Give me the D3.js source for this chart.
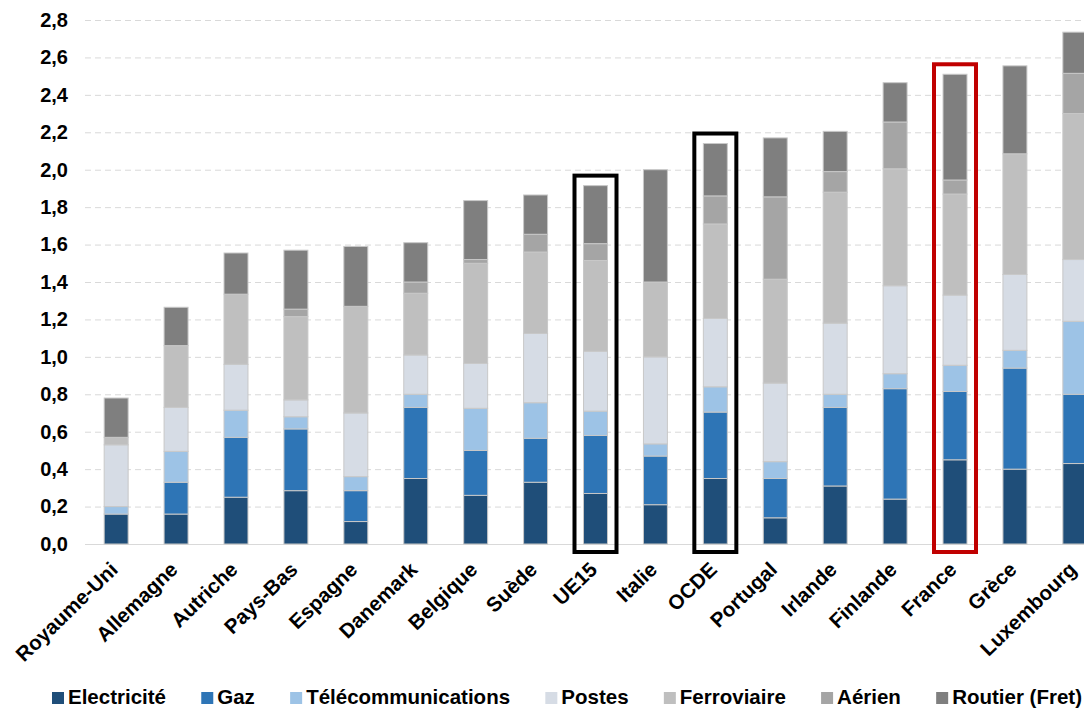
<!DOCTYPE html>
<html>
<head>
<meta charset="utf-8">
<script src="https://cdn.jsdelivr.net/npm/d3@7"></script>
<style>
  body { margin: 0; background: #fff; }
  svg { display: block; font-family: "Liberation Sans", Arial, sans-serif; }
</style>
</head>
<body>
<div class="chart"></div>
<script>
var countries = ["Royaume-Uni", "Allemagne", "Autriche", "Pays-Bas", "Espagne", "Danemark",
  "Belgique", "Suède", "UE15", "Italie", "OCDE", "Portugal", "Irlande", "Finlande",
  "France", "Grèce", "Luxembourg"];

var seriesNames = ["Electricité", "Gaz", "Télécommunications", "Postes", "Ferroviaire", "Aérien", "Routier (Fret)"];

var electricite = [0.16, 0.16, 0.25, 0.285, 0.12, 0.35, 0.26, 0.33, 0.27, 0.21, 0.35, 0.14, 0.31, 0.24, 0.45, 0.40, 0.43];
var gaz         = [0.00, 0.17, 0.32, 0.33, 0.165, 0.38, 0.24, 0.235, 0.31, 0.26, 0.355, 0.21, 0.42, 0.59, 0.365, 0.54, 0.37];
var telecom     = [0.04, 0.165, 0.145, 0.065, 0.075, 0.07, 0.225, 0.19, 0.13, 0.065, 0.135, 0.09, 0.07, 0.08, 0.14, 0.095, 0.39];
var postes      = [0.33, 0.235, 0.245, 0.09, 0.34, 0.21, 0.24, 0.37, 0.32, 0.465, 0.365, 0.42, 0.38, 0.47, 0.375, 0.405, 0.33];
var ferroviaire = [0.04, 0.33, 0.375, 0.445, 0.57, 0.33, 0.535, 0.435, 0.485, 0.40, 0.505, 0.555, 0.70, 0.625, 0.54, 0.645, 0.78];
var aerien      = [0.00, 0.00, 0.00, 0.04, 0.00, 0.06, 0.02, 0.095, 0.09, 0.00, 0.15, 0.44, 0.11, 0.25, 0.075, 0.00, 0.215];
var routier     = [0.21, 0.205, 0.22, 0.315, 0.32, 0.21, 0.315, 0.21, 0.31, 0.60, 0.28, 0.315, 0.215, 0.21, 0.565, 0.47, 0.22];

var yTicks = [0, 0.2, 0.4, 0.6, 0.8, 1.0, 1.2, 1.4, 1.6, 1.8, 2.0, 2.2, 2.4, 2.6, 2.8];

var colors = ["#1f4e79", "#2e75b6", "#9dc3e6", "#d6dce5", "#bfbfbf", "#a5a5a5", "#7f7f7f"];

// boxes drawn around some bars
var highlights = [
  { name: "UE15", color: "#000000" },
  { name: "OCDE", color: "#000000" },
  { name: "France", color: "#c00000" }
];

var width = 1084, height = 708;

var svg = d3.select(".chart")
  .append("svg")
  .attr("width", width)
  .attr("height", height);

svg.append("rect").attr("width", width).attr("height", height).attr("fill", "#fff");

var x = d3.scaleBand()
  .domain(countries)
  .range([85, 1106])
  .paddingInner(0.6)
  .paddingOuter(0.32);

var y = d3.scaleLinear()
  .domain([0, 2.8])
  .range([544, 20]);

// build rows for the stack
var table = countries.map(function(c, i) {
  return {
    country: c,
    "Electricité": electricite[i],
    "Gaz": gaz[i],
    "Télécommunications": telecom[i],
    "Postes": postes[i],
    "Ferroviaire": ferroviaire[i],
    "Aérien": aerien[i],
    "Routier (Fret)": routier[i]
  };
});

var stacked = d3.stack().keys(seriesNames)(table);

// grid
var yAxis = d3.axisLeft(y)
  .tickValues(yTicks)
  .tickSize(-(width - 85))
  .tickFormat(function(d) { return d3.format(".1f")(d).replace(".", ","); });

var gAxis = svg.append("g")
  .attr("transform", "translate(85,0)")
  .call(yAxis);

gAxis.select(".domain").remove();
gAxis.selectAll(".tick line")
  .attr("stroke", "#d9d9d9")
  .attr("stroke-width", 1)
  .attr("stroke-dasharray", function(d) { return d === 0 ? null : "6,4"; });
gAxis.selectAll(".tick text")
  .attr("x", -17)
  .attr("fill", "#000")
  .style("font-size", "20px")
  .style("font-weight", "bold");

// stacked bars
svg.append("g")
  .selectAll("g")
  .data(stacked)
  .enter().append("g")
  .attr("fill", function(d, i) { return colors[i]; })
  .selectAll("rect")
  .data(function(d) { return d; })
  .enter().append("rect")
  .attr("x", function(d) { return x(d.data.country); })
  .attr("width", x.bandwidth())
  .attr("y", function(d) { return y(d[1]); })
  .attr("height", function(d) { return y(d[0]) - y(d[1]); })
  .attr("stroke", "#c8c8c8")
  .attr("stroke-width", function(d) { return d[1] - d[0] > 0 ? 1 : 0; });

// highlight boxes
var totals = {};
table.forEach(function(r) {
  totals[r.country] = d3.sum(seriesNames, function(k) { return r[k]; });
});

svg.append("g")
  .selectAll("rect")
  .data(highlights)
  .enter().append("rect")
  .attr("x", function(d) { return x(d.name) + x.bandwidth() / 2 - 21; })
  .attr("width", 42)
  .attr("y", function(d) { return y(totals[d.name]) - 10; })
  .attr("height", function(d) { return y(0) + 8 - (y(totals[d.name]) - 10); })
  .attr("fill", "none")
  .attr("stroke", function(d) { return d.color; })
  .attr("stroke-width", 4);

// category labels
svg.append("g")
  .selectAll("text")
  .data(countries)
  .enter().append("text")
  .attr("transform", function(d) {
    return "translate(" + (x(d) + x.bandwidth() / 2 + 3) + ",571) rotate(-44)";
  })
  .attr("text-anchor", "end")
  .style("font-size", "20.5px")
  .style("font-weight", "bold")
  .text(function(d) { return d; });

// legend, spread between x=52 and x=1082
var legend = svg.append("g").attr("transform", "translate(0,704)");
var items = seriesNames.map(function(name, i) {
  var g = legend.append("g");
  g.append("rect")
    .attr("y", -12)
    .attr("width", 12)
    .attr("height", 12)
    .attr("fill", colors[i]);
  var t = g.append("text")
    .attr("x", 16)
    .style("font-size", "20.5px")
    .style("font-weight", "bold")
    .text(name);
  return { g: g, w: 16 + t.node().getComputedTextLength() };
});
var used = d3.sum(items, function(d) { return d.w; });
var gap = (1082 - 52 - used) / (items.length - 1);
var lx = 52;
items.forEach(function(it) {
  it.g.attr("transform", "translate(" + lx + ",0)");
  lx += it.w + gap;
});
</script>
</body>
</html>
